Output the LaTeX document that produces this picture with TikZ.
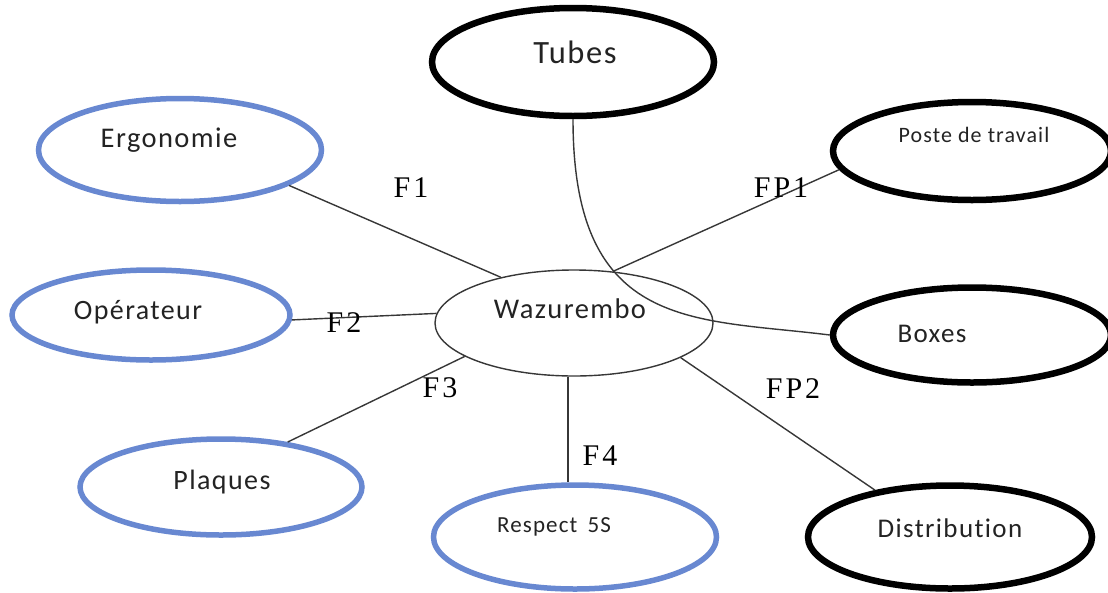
\documentclass[tikz,border=0pt]{standalone}
\usepackage{fontspec}
\usetikzlibrary{shapes.geometric}
\newfontfamily\boxfont{Carlito}[LetterSpace=5, Ligatures={NoCommon}]
\newfontfamily\tagfont{Liberation Serif}[LetterSpace=10]
\definecolor{ringblue}{RGB}{104,136,209}
\definecolor{inkgray}{RGB}{35,35,35}
\definecolor{wiregray}{RGB}{55,55,55}
\tikzset{
  oval/.style={ellipse, inner sep=0pt, draw},
  blueoval/.style={oval, draw=ringblue, line width=5.5pt},
  blackoval/.style={oval, draw=black, line width=6.5pt},
  hubstyle/.style={oval, draw=wiregray, line width=1.4pt},
  lbl/.style={anchor=base, inner sep=0pt, text=inkgray},
  ftag/.style={anchor=base, inner sep=0pt, text=black, font=\tagfont\fontsize{30}{32}\selectfont},
  wire/.style={draw=wiregray, line width=1.4pt}
}
\newcommand{\fs}[1]{\boxfont\fontsize{#1}{#1}\selectfont}
\begin{document}
\begin{tikzpicture}[x=1pt,y=-1pt]
\useasboundingbox (0,0) rectangle (1108,592);

% central node
\node[hubstyle, minimum width=278pt, minimum height=106pt] (waz) at (574,323) {};

% blue ovals on the left and bottom
\node[blueoval, minimum width=283pt, minimum height=103pt] (ergo) at (180,150) {};
\node[blueoval, minimum width=278pt, minimum height=90pt]  (oper) at (151,315) {};
\node[blueoval, minimum width=282pt, minimum height=96pt]  (plaq) at (221,487) {};
\node[blueoval, minimum width=283pt, minimum height=104pt] (resp) at (575,537) {};

% black ovals
\node[blackoval, minimum width=282pt, minimum height=108pt] (tubes) at (573,62) {};
\node[blackoval, minimum width=278pt, minimum height=98pt]  (poste) at (972,151) {};
\node[blackoval, minimum width=278pt, minimum height=95pt]  (boxes) at (972,335) {};
\node[blackoval, minimum width=284pt, minimum height=103pt] (distr) at (950,537) {};

% texts inside the ovals
\node[lbl, font=\fs{28.5}] (waz-t)   at (570,318) {Wazurembo};
\node[lbl, font=\fs{28.5}] (ergo-t)  at (169,147) {Ergonomie};
\node[lbl, font=\fs{28}]   (oper-t)  at (138,319) {Opérateur};
\node[lbl, font=\fs{28}]   (plaq-t)  at (222,489) {Plaques};
\node[lbl, font=\fs{23}]   (resp-t)  at (554,532) {Respect\, 5S};
\node[lbl, font=\fs{32.5}] (tubes-t) at (575,63)  {Tubes};
\node[lbl, font=\fs{22}]   (poste-t) at (974,142) {Poste de travail};
\node[lbl, font=\fs{27}]   (boxes-t) at (932,342) {Boxes};
\node[lbl, font=\fs{27}]   (distr-t) at (950,537) {Distribution};

% connectors
\draw[wire] (ergo.-18) -- (waz.148);
\draw[wire] (oper.-2) -- (waz.176);
\draw[wire] (plaq.34) -- (waz.197);
\draw[wire] ([xshift=-6pt]waz.south) -- ([xshift=-6pt]waz.south |- resp.north);
\draw[wire] (waz.-18) -- (distr.148);
\draw[wire] (waz.53) -- (poste.188);
\draw[wire] (tubes.south) .. controls +(0,213) and +(-135,-17) .. (boxes.west);

% function labels
\node[ftag] (f1)  at (411,197) {F1};
\node[ftag] (f2)  at (344,332) {F2};
\node[ftag] (f3)  at (440,397) {F3};
\node[ftag] (f4)  at (600,465) {F4};
\node[ftag] (fp1) at (781,197) {FP1};
\node[ftag] (fp2) at (793,398) {FP2};
\end{tikzpicture}
\end{document}
